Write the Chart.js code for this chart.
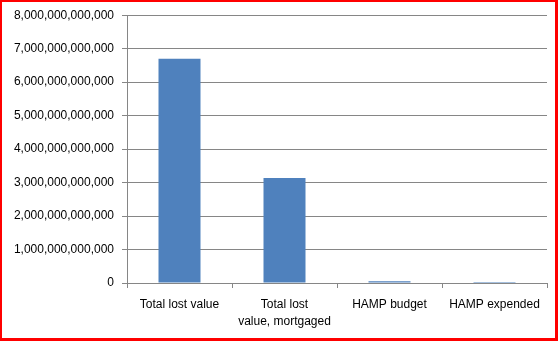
<!DOCTYPE html>
<html>
<head>
<meta charset="utf-8">
<script src="https://cdn.jsdelivr.net/npm/chart.js@4/dist/chart.umd.min.js"></script>
<style>
html,body{margin:0;padding:0;background:#fff;}
#wrap{position:relative;width:558px;height:341px;}
#c{position:absolute;left:0;top:0;}
#frame{position:absolute;left:0;top:0;width:558px;height:341px;box-sizing:border-box;border-style:solid;border-color:#ff0000;border-width:2px 3px 3px 2px;pointer-events:none;}
</style>
</head>
<body>
<div id="wrap">
<canvas id="c" width="558" height="341"></canvas>
<div id="frame"></div>
</div>
<script>
const categories = [["Total lost value"], ["Total lost", "value, mortgaged"], ["HAMP budget"], ["HAMP expended"]];
const values = [6700000000000, 3140000000000, 50000000000, 1000000000];
const yMax = 8000000000000;
const yStep = 1000000000000;

const gridColor = '#868686';
const font = {family: '"Liberation Sans", Arial, sans-serif', size: 12};

new Chart(document.getElementById('c'), {
  type: 'bar',
  data: {
    labels: categories,
    datasets: [{
      data: values,
      backgroundColor: '#4F81BD',
      borderWidth: 0,
      barPercentage: 0.4,
      categoryPercentage: 1.0
    }]
  },
  options: {
    responsive: false,
    animation: false,
    devicePixelRatio: 1,
    layout: {padding: {left: 0, right: 11, top: 13, bottom: 0}},
    plugins: {legend: {display: false}, tooltip: {enabled: false}},
    scales: {
      x: {
        grid: {display: true, drawOnChartArea: false, drawTicks: true, tickLength: 5, color: gridColor, offset: true},
        border: {display: true, color: gridColor, width: 1},
        ticks: {color: '#000', font: Object.assign({lineHeight: 1.35}, font), padding: 9, maxRotation: 0, autoSkip: false},
        afterFit: (s) => { s.height = 58; }
      },
      y: {
        min: 0,
        max: yMax,
        grid: {color: gridColor, tickLength: 5, drawTicks: true},
        border: {display: true, color: gridColor, width: 1},
        ticks: {
          stepSize: yStep,
          color: '#000',
          font: font,
          padding: 8,
          callback: (v) => Number(v).toLocaleString('en-US')
        },
        afterFit: (s) => { s.width = 127; }
      }
    }
  }
});
</script>
</body>
</html>
